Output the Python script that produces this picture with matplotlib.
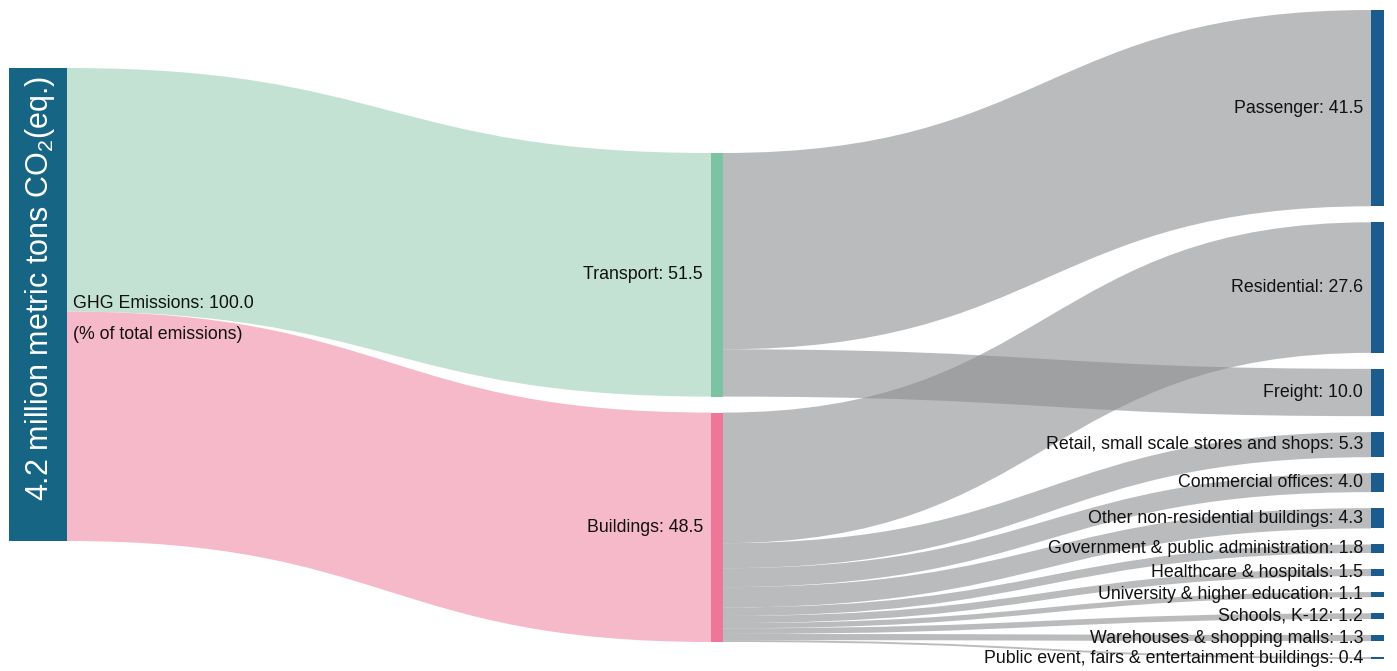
import numpy as np
import matplotlib
matplotlib.use('Agg')
import matplotlib.pyplot as plt
from matplotlib.path import Path
from matplotlib.patches import PathPatch, Rectangle

plt.rcParams['font.family'] = ['Liberation Sans', 'DejaVu Sans']

# data (% of total emissions)
total_label = 'GHG Emissions'
total_value = 100.0
sectors = ['Transport', 'Buildings']
sector_values = [51.5, 48.5]
targets = ['Passenger', 'Residential', 'Freight',
           'Retail, small scale stores and shops', 'Commercial offices',
           'Other non-residential buildings', 'Government & public administration',
           'Healthcare & hospitals', 'University & higher education',
           'Schools, K-12', 'Warehouses & shopping malls',
           'Public event, fairs & entertainment buildings']
target_values = [41.5, 27.6, 10.0, 5.3, 4.0, 4.3, 1.8, 1.5, 1.1, 1.2, 1.3, 0.4]
target_sector = [0, 1, 0, 1, 1, 1, 1, 1, 1, 1, 1, 1]

# layout (pixel units)
scale = 4.73
gap = 16
col_x = [9, 711, 1371]
col_w = [58, 12, 13]
col_top = [68, 153, 10]

green_link, pink_link = '#c3e2d4', '#f5b9ca'
green_node, pink_node = '#7cc3a4', '#ee7799'
left_node_c = '#176585'
right_node_c = '#1b5c8e'
gray_link = (0.55, 0.56, 0.57, 0.6)
fs = 12.8


def stack(values, top):
    ys = []
    y = top
    for v in values:
        ys.append((y, y + v * scale))
        y += v * scale + gap
    return ys


def link(ax, x0, s0, s1, x1, t0, t1, color):
    xm = (x0 + x1) / 2
    verts = [(x0, s0), (xm, s0), (xm, t0), (x1, t0), (x1, t1),
             (xm, t1), (xm, s1), (x0, s1), (x0, s0)]
    codes = [Path.MOVETO, Path.CURVE4, Path.CURVE4, Path.CURVE4, Path.LINETO,
             Path.CURVE4, Path.CURVE4, Path.CURVE4, Path.CLOSEPOLY]
    ax.add_patch(PathPatch(Path(verts, codes), fc=color, ec='none', lw=0))


fig = plt.figure(figsize=(13.97, 6.71), dpi=100)
ax = fig.add_axes([0, 0, 1, 1])
ax.set_xlim(0, 1397)
ax.set_ylim(671, 0)
ax.axis('off')

left_y = (col_top[0], col_top[0] + total_value * scale)
mid_y = stack(sector_values, col_top[1])
right_y = stack(target_values, col_top[2])

# left -> middle links
y = left_y[0]
for i, v in enumerate(sector_values):
    c = green_link if i == 0 else pink_link
    link(ax, col_x[0] + col_w[0], y, y + v * scale, col_x[1],
         mid_y[i][0], mid_y[i][1], c)
    y += v * scale

# middle -> right links
offs = [m[0] for m in mid_y]
for j, v in enumerate(target_values):
    s = target_sector[j]
    link(ax, col_x[1] + col_w[1], offs[s], offs[s] + v * scale, col_x[2],
         right_y[j][0], right_y[j][1], gray_link)
    offs[s] += v * scale

# nodes
ax.add_patch(Rectangle((col_x[0], left_y[0]), col_w[0], left_y[1] - left_y[0],
                       fc=left_node_c, ec='none'))
for i, (a, b) in enumerate(mid_y):
    ax.add_patch(Rectangle((col_x[1], a), col_w[1], b - a,
                           fc=green_node if i == 0 else pink_node, ec='none'))
for a, b in right_y:
    ax.add_patch(Rectangle((col_x[2], a), col_w[2], b - a, fc=right_node_c, ec='none'))

# labels
lc = (left_y[0] + left_y[1]) / 2
ax.text(col_x[0] + col_w[0] + 6, lc - 1, f'{total_label}: {total_value:.1f}',
        ha='left', va='center', fontsize=fs, color='#111111')
ax.text(col_x[0] + col_w[0] + 6, lc + 30, '(% of total emissions)',
        ha='left', va='center', fontsize=fs, color='#111111')
ax.text(col_x[0] + col_w[0] / 2 + 2, 288,
        r'4.2 million metric tons CO$\mathregular{_2}$(eq.)',
        rotation=90, ha='center', va='center', fontsize=22, color='white')

for i, (a, b) in enumerate(mid_y):
    ax.text(col_x[1] - 8, (a + b) / 2, f'{sectors[i]}: {sector_values[i]:.1f}',
            ha='right', va='center', fontsize=fs, color='#111111')
for j, (a, b) in enumerate(right_y):
    ax.text(col_x[2] - 8, (a + b) / 2, f'{targets[j]}: {target_values[j]:.1f}',
            ha='right', va='center', fontsize=fs, color='#111111')

fig.savefig('out.png', dpi=100, facecolor='white')
